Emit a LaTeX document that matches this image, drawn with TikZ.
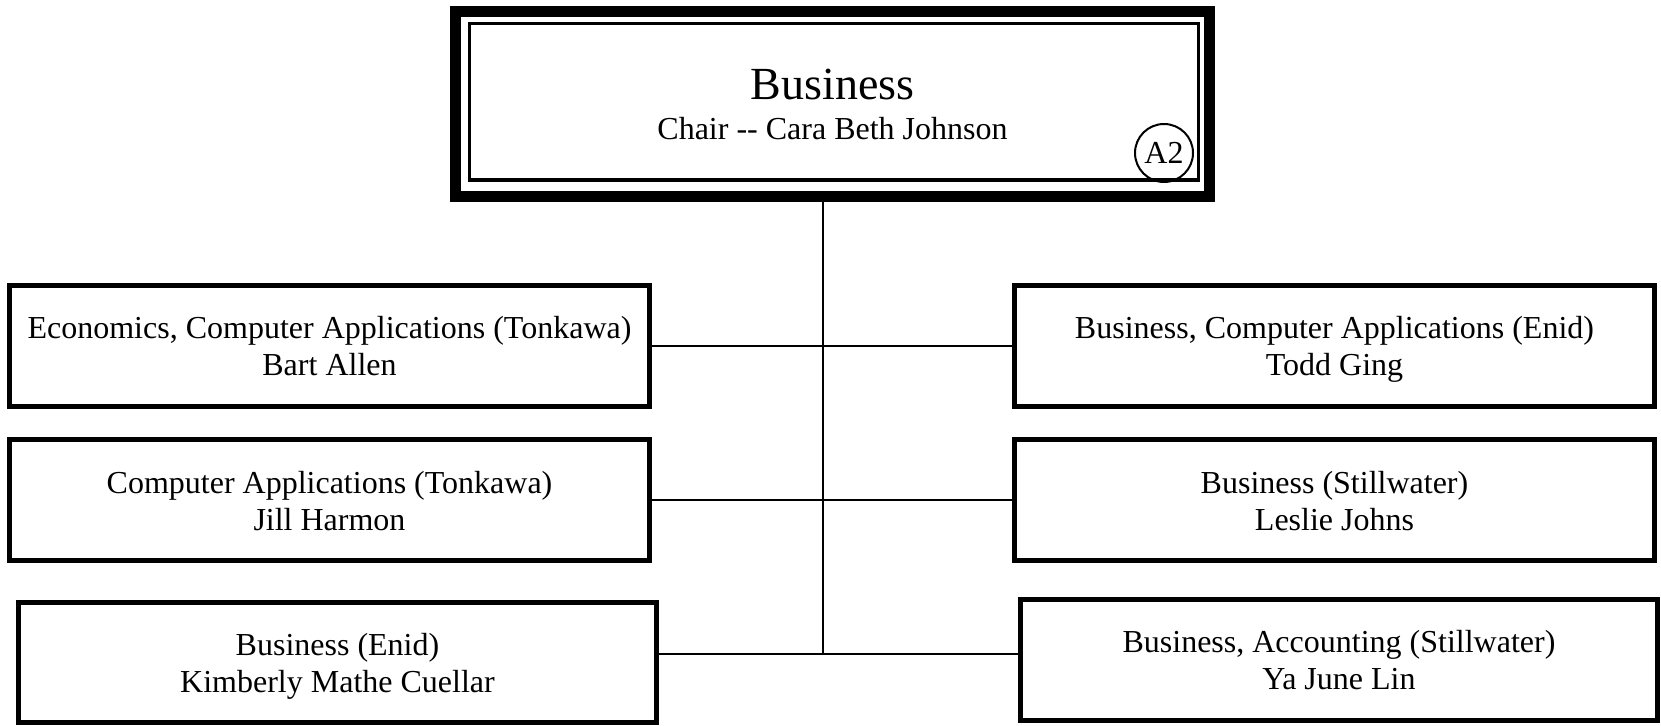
\documentclass[tikz,border=0pt]{standalone}
\usepackage{fontspec}
\setmainfont{Liberation Serif}

\begin{document}
\begin{tikzpicture}[x=0.5pt,y=-0.5pt,
    chairbox/.style={draw,line width=5.5pt,inner sep=0pt,outer sep=0pt,minimum width=377pt,minimum height=92.5pt,align=center,font=\fontsize{16}{20}\selectfont},
    innerbox/.style={draw,line width=1.65pt,inner sep=0pt,outer sep=0pt,minimum width=364.3pt,minimum height=78.15pt},
    codebox/.style={draw,circle,line width=1pt,inner sep=0pt,minimum size=29pt,font=\fontsize{16}{18}\selectfont},
    unitbox/.style={draw,line width=2.5pt,inner sep=0pt,outer sep=0pt,minimum width=320pt,minimum height=60.5pt,align=center,font=\fontsize{16}{18.5}\selectfont},
    link/.style={line width=1pt}]
            \useasboundingbox (0,0) rectangle (1661,726);
            \node[chairbox] (chair) at (832.5,104) {{\fontsize{23}{26}\selectfont Business}\\Chair -{}- Cara Beth Johnson};
            \node[innerbox] (chairin) at (834,101.85) {};
            \node[codebox] (code) at (1164,153) {A2};

            \node[unitbox] (econ) at (329.5,346) {Economics, Computer Applications (Tonkawa)\\\smash{Bart Allen}};
            \node[unitbox] (compapp) at (329.5,500.5) {Computer Applications (Tonkawa)\\\smash{Jill Harmon}};
            \node[unitbox,minimum width=319pt,minimum height=60pt] (bizenid) at (337.5,662.5) {Business (Enid)\\\smash{Kimberly Mathe Cuellar}};
            \node[unitbox] (bizcomp) at (1334.5,346) {Business, Computer Applications (Enid)\\\smash{Todd Ging}};
            \node[unitbox] (bizstill) at (1334.5,500.5) {Business (Stillwater)\\\smash{Leslie Johns}};
            \node[unitbox,minimum width=318.5pt] (acct) at (1339,660) {Business, Accounting (Stillwater)\\\smash{Ya June Lin}};

            \coordinate (spine) at (823,654);
            \draw[link] (chair.south -| spine)--(spine);
            \draw[link] (econ.east)--(bizcomp.west);
            \draw[link] (compapp.east)--(bizstill.west);
            \draw[link] (bizenid.east |- spine)--(acct.west |- spine);
        \end{tikzpicture}
\end{document}
